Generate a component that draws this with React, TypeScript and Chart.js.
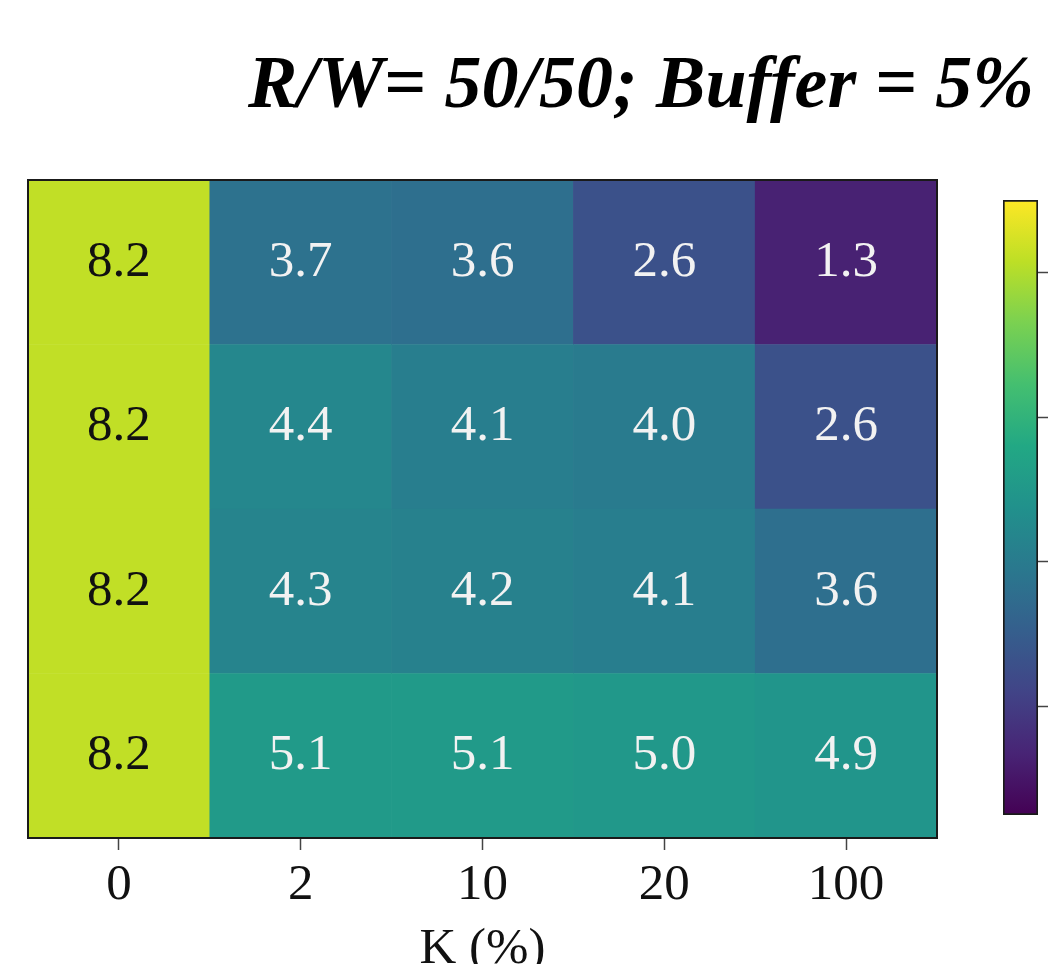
import React, { useEffect, useRef } from 'react';
import { Chart, registerables } from 'chart.js';

Chart.register(...registerables);

// ---- data ----
const kLabels = ['0', '2', '10', '20', '100'];
const rowTop = [8.2, 3.7, 3.6, 2.6, 1.3];
const rowSecond = [8.2, 4.4, 4.1, 4.0, 2.6];
const rowThird = [8.2, 4.3, 4.2, 4.1, 3.6];
const rowBottom = [8.2, 5.1, 5.1, 5.0, 4.9];
const rowsBottomToTop = [rowBottom, rowThird, rowSecond, rowTop];
const colorMin = 0.5;
const colorMax = 9.0;
const colorbarTicks = [2, 4, 6, 8];
const darkTextThreshold = 7;
const titleText = 'R/W= 50/50; Buffer = 5%';
const xTitle = 'K (%)';

// ---- viridis colormap ----
const viridisStops = [
  '#440154', '#482475', '#414487', '#355f8d', '#2a788e', '#21918c',
  '#22a884', '#44bf70', '#7ad151', '#bddf26', '#fde725',
];
function hexToRgb(h: string) {
  return [parseInt(h.slice(1, 3), 16), parseInt(h.slice(3, 5), 16), parseInt(h.slice(5, 7), 16)];
}
function viridis(t: number) {
  const tt = Math.max(0, Math.min(1, t)) * (viridisStops.length - 1);
  const i = Math.min(Math.floor(tt), viridisStops.length - 2);
  const f = tt - i;
  const a = hexToRgb(viridisStops[i]);
  const b = hexToRgb(viridisStops[i + 1]);
  const c = a.map((v, k) => Math.round(v + (b[k] - v) * f));
  return `rgb(${c[0]},${c[1]},${c[2]})`;
}
const norm = (v: number) => (v - colorMin) / (colorMax - colorMin);

const serif = 'Liberation Serif';

export default function App() {
  const heatRef = useRef<HTMLCanvasElement>(null);
  const cbRef = useRef<HTMLCanvasElement>(null);

  useEffect(() => {
    document.body.style.margin = '0';
    const labelPlugin = {
      id: 'cellLabels',
      afterDatasetsDraw(chart: any) {
        const ctx = chart.ctx;
        ctx.save();
        ctx.font = `51px "${serif}"`;
        ctx.textAlign = 'center';
        ctx.textBaseline = 'middle';
        chart.data.datasets.forEach((ds: any, di: number) => {
          const meta = chart.getDatasetMeta(di);
          meta.data.forEach((el: any, i: number) => {
            const v = ds.values[i];
            ctx.fillStyle = v >= darkTextThreshold ? '#111111' : '#f2f2f2';
            ctx.fillText(v.toFixed(1), el.x, (el.y + el.base) / 2);
          });
        });
        const a = chart.chartArea;
        ctx.strokeStyle = '#1a1a1a';
        ctx.lineWidth = 2;
        ctx.strokeRect(a.left, a.top, a.right - a.left, a.bottom - a.top);
        ctx.restore();
      },
    };

    const heat = new Chart(heatRef.current!, {
      type: 'bar',
      data: {
        labels: kLabels,
        datasets: rowsBottomToTop.map((row, i) => ({
          label: 'row' + i,
          data: row.map(() => 1),
          values: row,
          backgroundColor: row.map((v) => viridis(norm(v))),
          borderWidth: 0,
          barPercentage: 1,
          categoryPercentage: 1,
        })) as any,
      },
      options: {
        responsive: false,
        maintainAspectRatio: false,
        animation: false,
        layout: { padding: { left: 28, right: 8, top: 30, bottom: 0 } },
        plugins: { legend: { display: false }, tooltip: { enabled: false }, title: { display: false } },
        scales: {
          x: {
            stacked: true,
            grid: {
              display: true,
              drawOnChartArea: false,
              drawTicks: true,
              tickLength: 12,
              offset: false,
              color: '#444',
              tickWidth: 1.5,
            } as any,
            border: { display: false },
            ticks: { font: { family: serif, size: 51 }, color: '#111', padding: 5, maxRotation: 0 },
            title: {
              display: true,
              text: xTitle,
              font: { family: serif, size: 51 },
              color: '#111',
              padding: { top: 0, bottom: 20 },
            },
            afterFit: (s: any) => {
              s.height = 162;
            },
          },
          y: { stacked: true, display: false, min: 0, max: 4 },
        },
      },
      plugins: [labelPlugin],
    });

    const cb = new Chart(cbRef.current!, {
      type: 'bar',
      data: {
        labels: ['cb'],
        datasets: [
          {
            data: [[colorMin, colorMax]] as any,
            backgroundColor: (c: any) => {
              const ch = c.chart;
              const ys = ch.scales.y;
              if (!ys || !ch.chartArea) return 'transparent';
              const y0 = ys.getPixelForValue(colorMin);
              const y1 = ys.getPixelForValue(colorMax);
              const g = ch.ctx.createLinearGradient(0, y0, 0, y1);
              viridisStops.forEach((s, i) => g.addColorStop(i / (viridisStops.length - 1), s));
              return g;
            },
            borderColor: '#1a1a1a',
            borderWidth: 2,
            borderSkipped: false,
            barPercentage: 1,
            categoryPercentage: 1,
          },
        ],
      },
      options: {
        responsive: false,
        maintainAspectRatio: false,
        animation: false,
        layout: { padding: { left: 13, right: 0, top: 50, bottom: 35 } },
        plugins: { legend: { display: false }, tooltip: { enabled: false } },
        scales: {
          x: { display: false },
          y: {
            position: 'right',
            min: colorMin,
            max: colorMax,
            afterBuildTicks: (s: any) => {
              s.ticks = colorbarTicks.map((v) => ({ value: v }));
            },
            grid: { drawOnChartArea: false, tickLength: 10, color: '#444', tickWidth: 1.5 } as any,
            border: { display: false },
            ticks: { font: { family: serif, size: 51 }, color: '#111', padding: 4 },
            afterFit: (s: any) => {
              s.width = 72;
            },
          },
        },
      },
    });

    return () => {
      heat.destroy();
      cb.destroy();
    };
  }, []);

  return (
    <div
      style={{
        position: 'fixed',
        left: 0,
        top: 0,
        width: 1051,
        height: 964,
        overflow: 'hidden',
        background: '#ffffff',
      }}
    >
      <div
        style={{
          position: 'absolute',
          left: 248,
          top: 45,
          fontFamily: serif,
          fontWeight: 'bold',
          fontStyle: 'italic',
          fontSize: 74,
          lineHeight: 1,
          whiteSpace: 'nowrap',
          color: '#000',
        }}
      >
        {titleText}
      </div>
      <canvas
        ref={heatRef}
        width={945}
        height={850}
        style={{ position: 'absolute', left: 0, top: 150, width: 945, height: 850 }}
      />
      <canvas
        ref={cbRef}
        width={120}
        height={700}
        style={{ position: 'absolute', left: 990, top: 150, width: 120, height: 700 }}
      />
    </div>
  );
}
